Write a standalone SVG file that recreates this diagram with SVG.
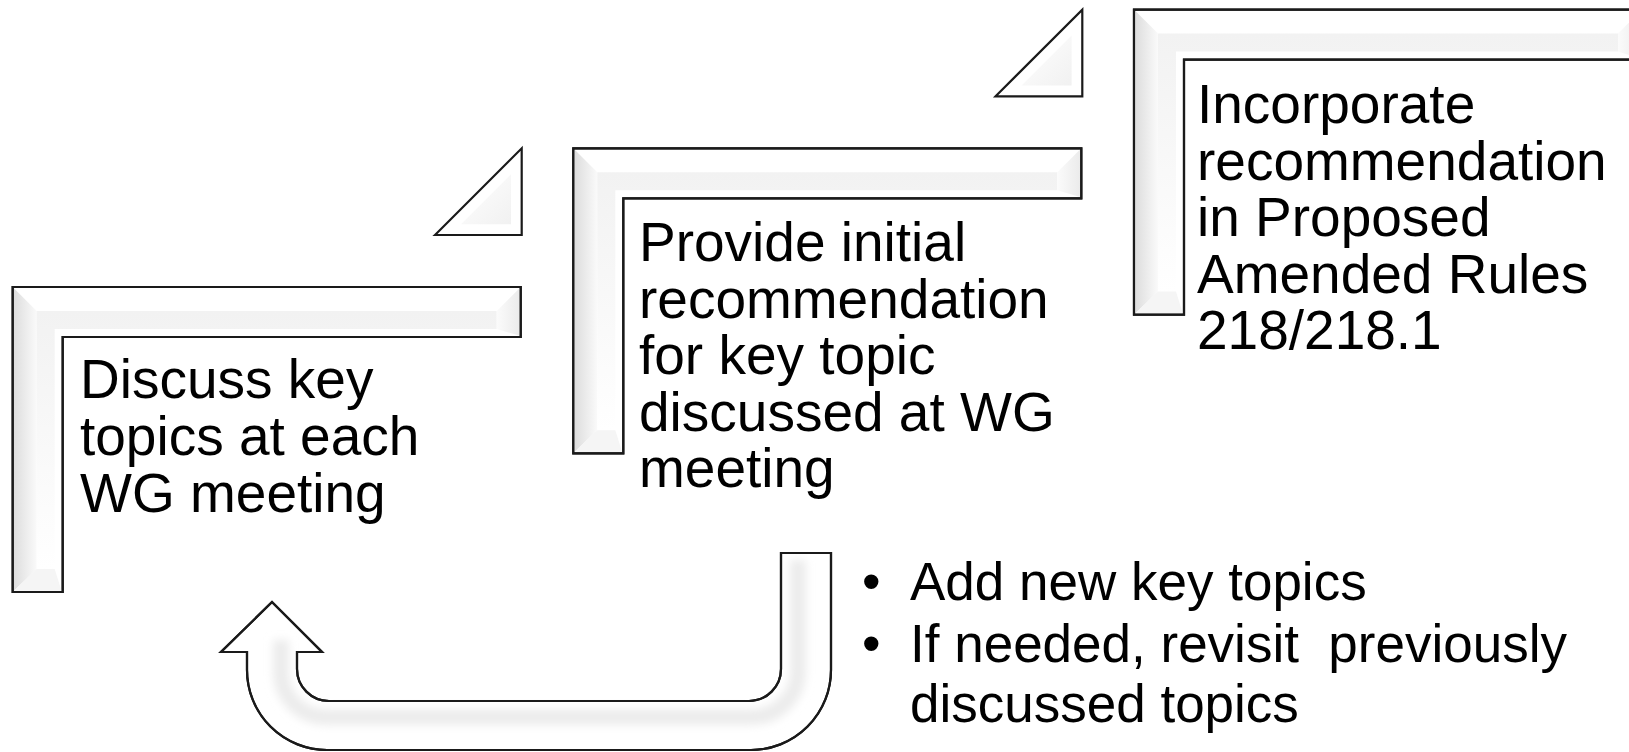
<svg xmlns="http://www.w3.org/2000/svg" width="1629" height="752" viewBox="0 0 1629 752">
  <style>
    .outline { fill: #ffffff; stroke: #1a1a1a; stroke-width: 2.2; stroke-linejoin: miter; }
    .nostroke { stroke: none; }
    .label { font-family: "Liberation Sans", Arial, sans-serif; font-size: 55px; fill: #000000; }
    .bullet { font-family: "Liberation Sans", Arial, sans-serif; font-size: 53px; fill: #000000; }
  </style>
  <defs>
    <linearGradient id="gLeft" x1="0" y1="0" x2="1" y2="0">
      <stop offset="0" stop-color="#dddddd"/>
      <stop offset="1" stop-color="#fafafa"/>
    </linearGradient>
    <linearGradient id="gTop" x1="0" y1="0" x2="0" y2="1">
      <stop offset="0" stop-color="#f2f2f2"/>
      <stop offset="1" stop-color="#ffffff"/>
    </linearGradient>
    <linearGradient id="gEnd" x1="0" y1="0" x2="1" y2="0">
      <stop offset="0" stop-color="#fbfbfb"/>
      <stop offset="1" stop-color="#ebebeb"/>
    </linearGradient>
    <linearGradient id="gTri" x1="0" y1="0" x2="1" y2="1">
      <stop offset="0" stop-color="#ffffff"/>
      <stop offset="1" stop-color="#f1f1f1"/>
    </linearGradient>
    <filter id="soft" x="-10%" y="-10%" width="120%" height="120%">
      <feGaussianBlur stdDeviation="4"/>
    </filter>
    <g id="lshape">
      <path class="outline" d="M0,0 H508 V50 H50 V305 H0 Z"/>
      <polygon class="nostroke" fill="url(#gLeft)" points="1.2,1.2 24,24 24,282 1.2,303.8"/>
      <polygon class="nostroke" fill="url(#gTop)" points="24,24 484,24 484,42 42,42 42,282 24,282"/>
      <polygon class="nostroke" fill="url(#gEnd)" points="506.8,1.2 506.8,48.8 484,42 484,24"/>
      <polygon class="nostroke" fill="#f5f5f5" points="1.2,303.8 24,282 42,282 48.8,303.8"/>
      <path d="M0,0 H508 V50 H50 V305 H0 Z" fill="none" stroke="#1a1a1a" stroke-width="2.2"/>
    </g>
    <g id="tri">
      <polygon class="outline" points="0,86.7 86.7,0 86.7,86.7"/>
      <polygon class="nostroke" fill="url(#gTri)" points="26,76 76,26 76,76"/>
    </g>
  </defs>

  <g id="connectors">
    <use href="#tri" transform="translate(435,148.3)"/>
    <use href="#tri" transform="translate(995.6,9.6)"/>
    <g id="loop-arrow">
      <path class="outline" d="M781,553 H831 V670 A80 80 0 0 1 751,750 H327 A80 80 0 0 1 247,670 V652 H221 L272,602 L322,652 H297 V669 A32 32 0 0 0 329,701 H749 A32 32 0 0 0 781,669 Z"/>
      <path d="M281,640 V672 A45 45 0 0 0 326,717 H752 A46 46 0 0 0 798,671 V560" fill="none" stroke="#ececec" stroke-width="16" filter="url(#soft)"/>
      <path d="M781,553 H831 V670 A80 80 0 0 1 751,750 H327 A80 80 0 0 1 247,670 V652 H221 L272,602 L322,652 H297 V669 A32 32 0 0 0 329,701 H749 A32 32 0 0 0 781,669 Z" fill="none" stroke="#1a1a1a" stroke-width="2.2"/>
    </g>
  </g>

  <g id="node1">
    <use href="#lshape" transform="translate(12.7,287)"/>
    <text class="label" x="80" y="398">Discuss key</text>
    <text class="label" x="80" y="455">topics at each</text>
    <text class="label" x="80" y="512">WG meeting</text>
  </g>

  <g id="node2">
    <use href="#lshape" transform="translate(573.3,148.3)"/>
    <text class="label" x="639" y="261">Provide initial</text>
    <text class="label" x="639" y="317.5">recommendation</text>
    <text class="label" x="639" y="374">for key topic</text>
    <text class="label" x="639" y="430.5">discussed at WG</text>
    <text class="label" x="639" y="487">meeting</text>
  </g>

  <g id="node3">
    <use href="#lshape" transform="translate(1134,9.6)"/>
    <text class="label" x="1197" y="123">Incorporate</text>
    <text class="label" x="1197" y="179.5">recommendation</text>
    <text class="label" x="1197" y="236">in Proposed</text>
    <text class="label" x="1197" y="292.5">Amended Rules</text>
    <text class="label" x="1197" y="349">218/218.1</text>
  </g>

  <g id="note">
    <text class="bullet" x="862" y="600">•</text>
    <text class="bullet" x="910" y="600">Add new key topics</text>
    <text class="bullet" x="862" y="662">•</text>
    <text class="bullet" x="910" y="662" xml:space="preserve">If needed, revisit  previously</text>
    <text class="bullet" x="910" y="722">discussed topics</text>
  </g>
</svg>
